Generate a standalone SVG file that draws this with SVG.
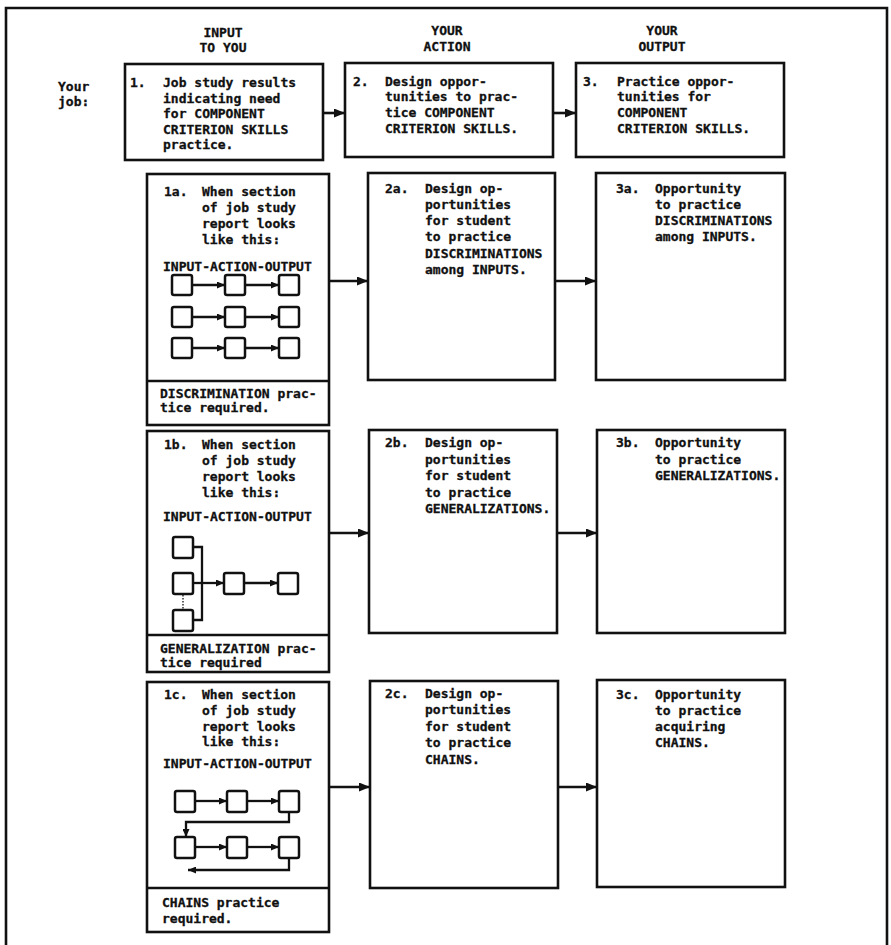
<svg xmlns="http://www.w3.org/2000/svg" width="891" height="945" viewBox="0 0 891 945">
<style>
text{font-family:"DejaVu Sans Mono","Liberation Mono",monospace;font-weight:bold;font-size:13px;fill:#111;stroke:#111;stroke-width:0.3}
.hd{text-anchor:middle}
.box{fill:#fff;stroke:#111;stroke-width:2.6}
.div{stroke:#111;stroke-width:2.6}
.mb{fill:#fff;stroke:#111;stroke-width:2.5}
.ml{fill:none;stroke:#111;stroke-width:2.3}
.arr{fill:none;stroke:#111;stroke-width:2.6}
</style>
<defs>
<marker id="ah" markerUnits="userSpaceOnUse" markerWidth="11" markerHeight="9" refX="11" refY="4.5" orient="auto"><path d="M0,0 L11,4.5 L0,9 z" fill="#111"/></marker>
<marker id="mh" markerUnits="userSpaceOnUse" markerWidth="8" markerHeight="7" refX="8" refY="3.5" orient="auto"><path d="M0,0 L8,3.5 L0,7 z" fill="#111"/></marker>
</defs>
<rect width="891" height="945" fill="#fff"/>
<path d="M6,945 V8 H887 V945" fill="none" stroke="#111" stroke-width="2.6"/>
<g id="headers">
<text class="hd" x="223" y="37">INPUT</text>
<text class="hd" x="223" y="52">TO YOU</text>
<text class="hd" x="447" y="35">YOUR</text>
<text class="hd" x="447" y="51">ACTION</text>
<text class="hd" x="662" y="35">YOUR</text>
<text class="hd" x="662" y="51">OUTPUT</text>
<text x="58" y="91">Your</text>
<text x="58" y="106">job:</text>
</g>
<g id="connectors">
<line class="arr" x1="323" y1="113" x2="345" y2="113" marker-end="url(#ah)"/>
<line class="arr" x1="553" y1="113" x2="576" y2="113" marker-end="url(#ah)"/>
<line class="arr" x1="329" y1="281" x2="368" y2="281" marker-end="url(#ah)"/>
<line class="arr" x1="555" y1="281" x2="596" y2="281" marker-end="url(#ah)"/>
<line class="arr" x1="329" y1="533" x2="369" y2="533" marker-end="url(#ah)"/>
<line class="arr" x1="557" y1="533" x2="597" y2="533" marker-end="url(#ah)"/>
<line class="arr" x1="329" y1="787" x2="370" y2="787" marker-end="url(#ah)"/>
<line class="arr" x1="558" y1="787" x2="597" y2="787" marker-end="url(#ah)"/>
</g>
<g id="n1">
<rect class="box" x="125" y="64" width="198" height="96"/>
<text x="130" y="87">1.</text>
<text x="163" y="87">Job study results</text>
<text x="163" y="103">indicating need</text>
<text x="163" y="118">for COMPONENT</text>
<text x="163" y="134">CRITERION SKILLS</text>
<text x="163" y="149">practice.</text>
</g>
<g id="n2">
<rect class="box" x="345" y="63" width="208" height="94"/>
<text x="353" y="86">2.</text>
<text x="385" y="86">Design oppor-</text>
<text x="385" y="101">tunities to prac-</text>
<text x="385" y="117">tice COMPONENT</text>
<text x="385" y="133">CRITERION SKILLS.</text>
</g>
<g id="n3">
<rect class="box" x="576" y="63" width="208" height="94"/>
<text x="583" y="86">3.</text>
<text x="617" y="86">Practice oppor-</text>
<text x="617" y="101">tunities for</text>
<text x="617" y="117">COMPONENT</text>
<text x="617" y="133">CRITERION SKILLS.</text>
</g>
<g id="n1a">
<rect class="box" x="147" y="174" width="182" height="251"/>
<line class="div" x1="147" y1="381" x2="329" y2="381"/>
<text x="164" y="196">1a.</text>
<text x="202" y="196">When section</text>
<text x="202" y="212">of job study</text>
<text x="202" y="228">report looks</text>
<text x="202" y="244">like this:</text>
<text x="163" y="271">INPUT-ACTION-OUTPUT</text>
<g>
<rect class="mb" x="172" y="275" width="20" height="20" rx="2"/>
<rect class="mb" x="225" y="275" width="20" height="20" rx="2"/>
<rect class="mb" x="279" y="275" width="20" height="20" rx="2"/>
<line class="ml" x1="192" y1="285" x2="225" y2="285" marker-end="url(#mh)"/>
<line class="ml" x1="245" y1="285" x2="279" y2="285" marker-end="url(#mh)"/>
<rect class="mb" x="172" y="307" width="20" height="20" rx="2"/>
<rect class="mb" x="225" y="307" width="20" height="20" rx="2"/>
<rect class="mb" x="279" y="307" width="20" height="20" rx="2"/>
<line class="ml" x1="192" y1="317" x2="225" y2="317" marker-end="url(#mh)"/>
<line class="ml" x1="245" y1="317" x2="279" y2="317" marker-end="url(#mh)"/>
<rect class="mb" x="172" y="338" width="20" height="20" rx="2"/>
<rect class="mb" x="225" y="338" width="20" height="20" rx="2"/>
<rect class="mb" x="279" y="338" width="20" height="20" rx="2"/>
<line class="ml" x1="192" y1="348" x2="225" y2="348" marker-end="url(#mh)"/>
<line class="ml" x1="245" y1="348" x2="279" y2="348" marker-end="url(#mh)"/>
</g>
<text x="160" y="398">DISCRIMINATION prac-</text>
<text x="160" y="412">tice required.</text>
</g>
<g id="n2a">
<rect class="box" x="368" y="173" width="187" height="207"/>
<text x="385" y="193">2a.</text>
<text x="425" y="193">Design op-</text>
<text x="425" y="209">portunities</text>
<text x="425" y="225">for student</text>
<text x="425" y="241">to practice</text>
<text x="425" y="258">DISCRIMINATIONS</text>
<text x="425" y="274">among INPUTS.</text>
</g>
<g id="n3a">
<rect class="box" x="596" y="173" width="189" height="207"/>
<text x="616" y="193">3a.</text>
<text x="655" y="193">Opportunity</text>
<text x="655" y="209">to practice</text>
<text x="655" y="225">DISCRIMINATIONS</text>
<text x="655" y="241">among INPUTS.</text>
</g>
<g id="n1b">
<rect class="box" x="147" y="431" width="182" height="241"/>
<line class="div" x1="147" y1="635" x2="329" y2="635"/>
<text x="164" y="449">1b.</text>
<text x="202" y="449">When section</text>
<text x="202" y="465">of job study</text>
<text x="202" y="481">report looks</text>
<text x="202" y="497">like this:</text>
<text x="163" y="521">INPUT-ACTION-OUTPUT</text>
<g>
<rect class="mb" x="173" y="537" width="20" height="21" rx="2"/>
<rect class="mb" x="173" y="573" width="20" height="21" rx="2"/>
<rect class="mb" x="173" y="610" width="20" height="21" rx="2"/>
<rect class="mb" x="224" y="573" width="20" height="21" rx="2"/>
<rect class="mb" x="278" y="573" width="20" height="21" rx="2"/>
<path class="ml" d="M193,547 H202 V620 H193"/>
<line class="ml" x1="193" y1="583" x2="224" y2="583" marker-end="url(#mh)"/>
<line class="ml" x1="244" y1="583" x2="278" y2="583" marker-end="url(#mh)"/>
<line x1="183" y1="595" x2="183" y2="609" stroke="#111" stroke-width="1.3" stroke-dasharray="1.5,1.5"/>
</g>
<text x="160" y="653">GENERALIZATION prac-</text>
<text x="160" y="667">tice required</text>
</g>
<g id="n2b">
<rect class="box" x="369" y="430" width="188" height="203"/>
<text x="385" y="447">2b.</text>
<text x="425" y="447">Design op-</text>
<text x="425" y="464">portunities</text>
<text x="425" y="480">for student</text>
<text x="425" y="497">to practice</text>
<text x="425" y="513">GENERALIZATIONS.</text>
</g>
<g id="n3b">
<rect class="box" x="597" y="430" width="188" height="203"/>
<text x="616" y="447">3b.</text>
<text x="655" y="447">Opportunity</text>
<text x="655" y="464">to practice</text>
<text x="655" y="480">GENERALIZATIONS.</text>
</g>
<g id="n1c">
<rect class="box" x="147" y="682" width="182" height="250"/>
<line class="div" x1="147" y1="888" x2="329" y2="888"/>
<text x="164" y="699">1c.</text>
<text x="202" y="699">When section</text>
<text x="202" y="715">of job study</text>
<text x="202" y="731">report looks</text>
<text x="202" y="746">like this:</text>
<text x="163" y="768">INPUT-ACTION-OUTPUT</text>
<g>
<rect class="mb" x="175" y="791" width="20" height="21" rx="2"/>
<rect class="mb" x="227" y="791" width="20" height="21" rx="2"/>
<rect class="mb" x="279" y="791" width="20" height="21" rx="2"/>
<line class="ml" x1="195" y1="801" x2="227" y2="801" marker-end="url(#mh)"/>
<line class="ml" x1="247" y1="801" x2="279" y2="801" marker-end="url(#mh)"/>
<rect class="mb" x="175" y="837" width="20" height="21" rx="2"/>
<rect class="mb" x="227" y="837" width="20" height="21" rx="2"/>
<rect class="mb" x="279" y="837" width="20" height="21" rx="2"/>
<line class="ml" x1="195" y1="847" x2="227" y2="847" marker-end="url(#mh)"/>
<line class="ml" x1="247" y1="847" x2="279" y2="847" marker-end="url(#mh)"/>
<path class="ml" d="M289,812 V822 H186 V837" marker-end="url(#mh)"/>
<path class="ml" d="M289,858 V870 H188" marker-end="url(#mh)"/>
</g>
<text x="162" y="907">CHAINS practice</text>
<text x="162" y="923">required.</text>
</g>
<g id="n2c">
<rect class="box" x="370" y="681" width="188" height="207"/>
<text x="385" y="698">2c.</text>
<text x="425" y="698">Design op-</text>
<text x="425" y="714">portunities</text>
<text x="425" y="731">for student</text>
<text x="425" y="747">to practice</text>
<text x="425" y="764">CHAINS.</text>
</g>
<g id="n3c">
<rect class="box" x="597" y="680" width="188" height="207"/>
<text x="616" y="699">3c.</text>
<text x="655" y="699">Opportunity</text>
<text x="655" y="715">to practice</text>
<text x="655" y="731">acquiring</text>
<text x="655" y="747">CHAINS.</text>
</g>
</svg>
